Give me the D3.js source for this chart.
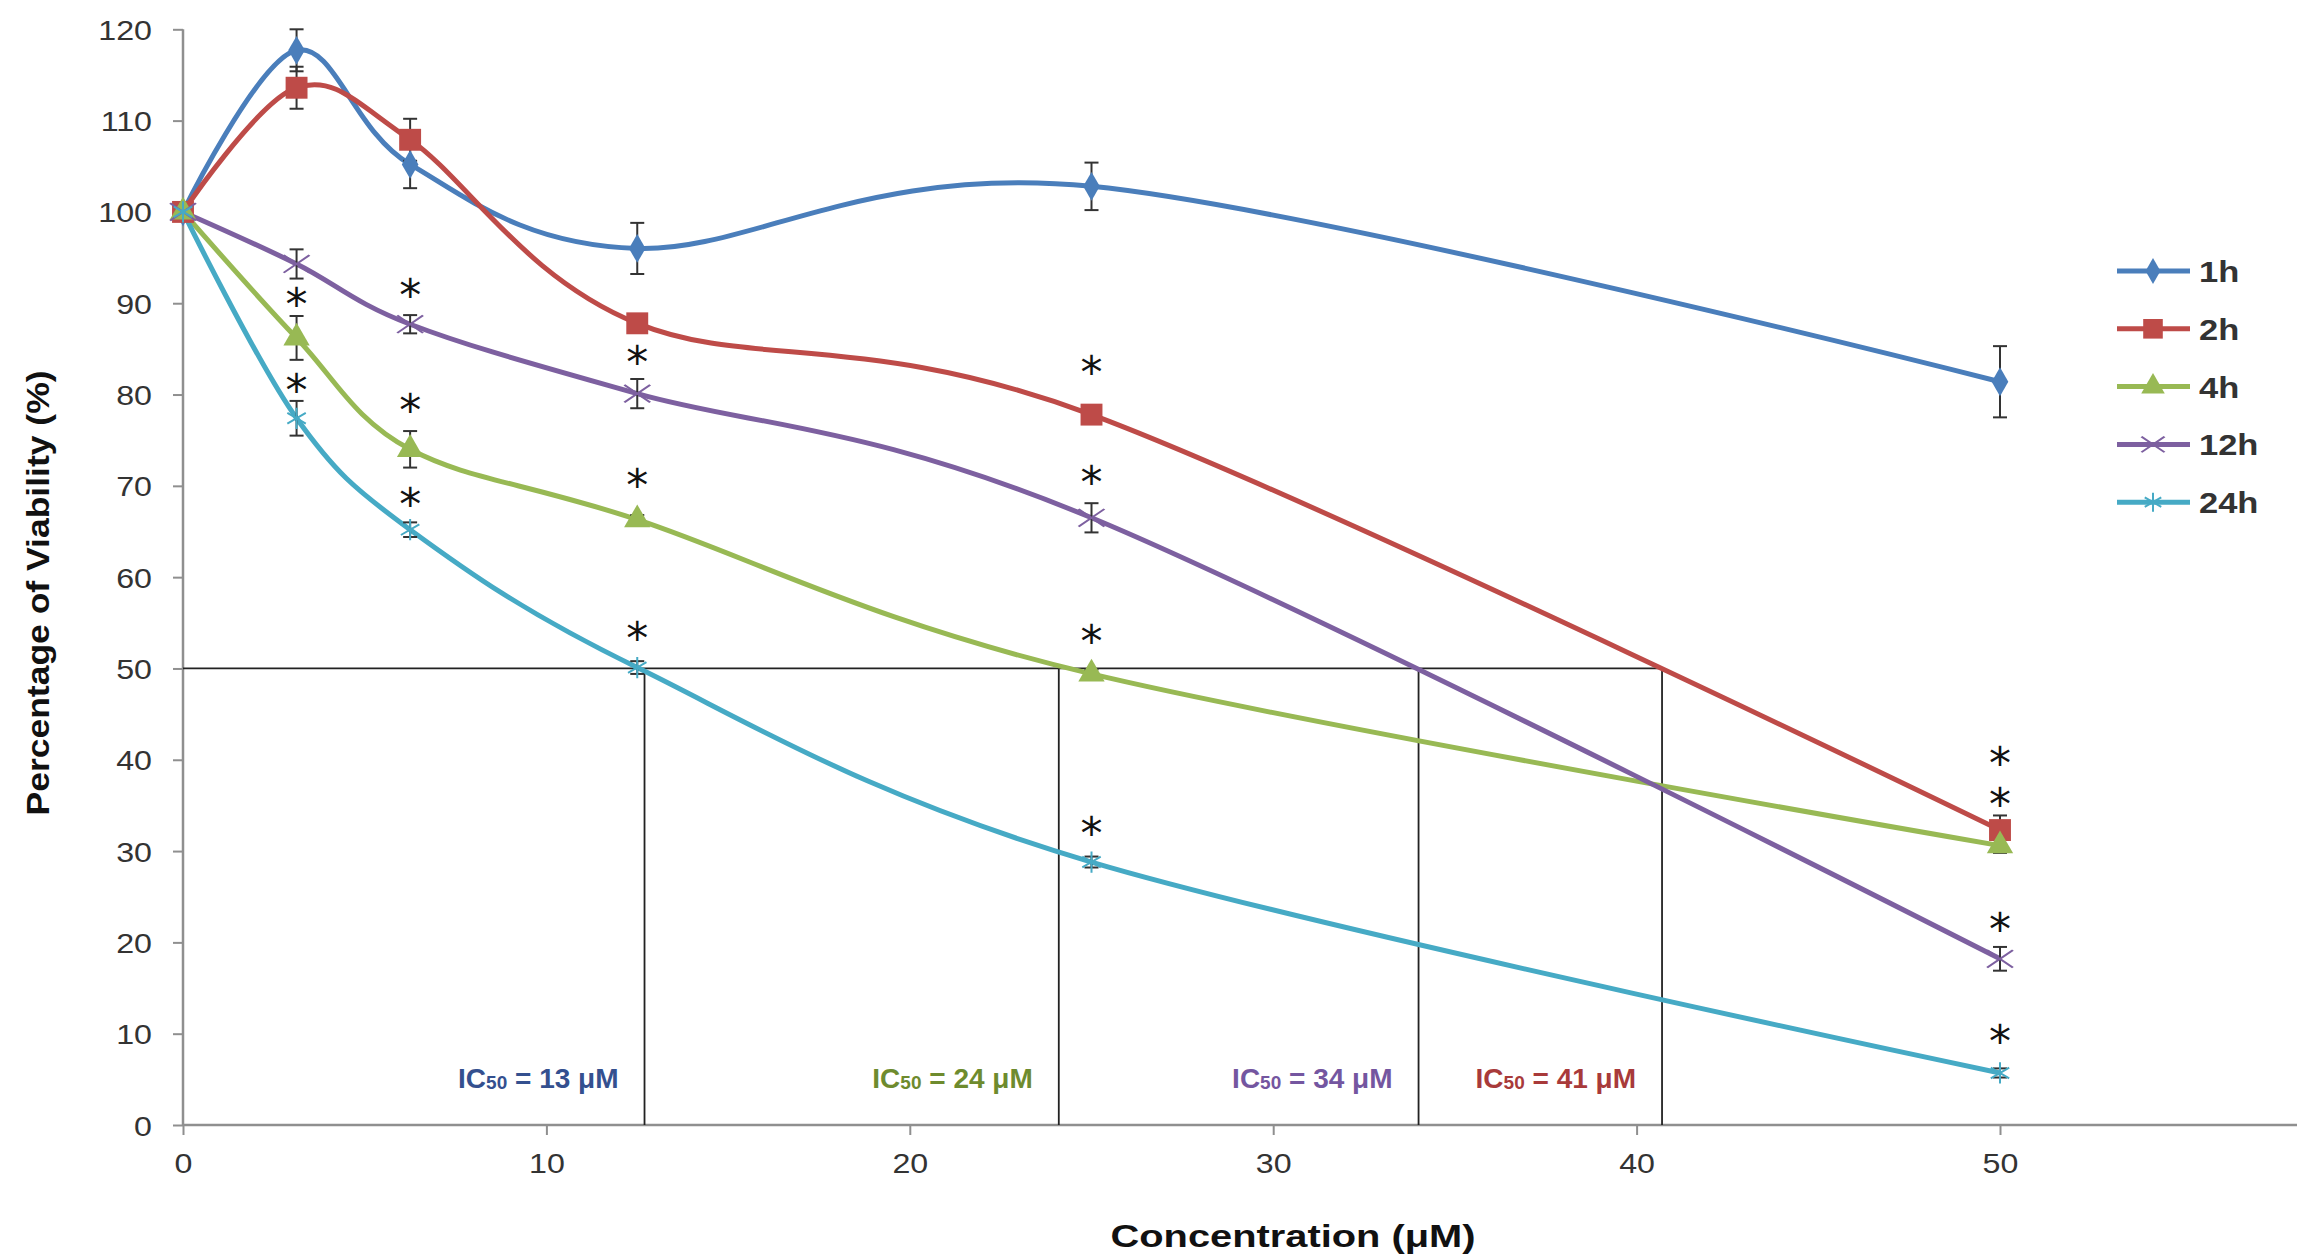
<!DOCTYPE html>
<html><head><meta charset="utf-8">
<script src="https://cdn.jsdelivr.net/npm/d3@7"></script>
<style>body{margin:0;background:#fff} svg{display:block}</style>
</head><body><svg id="c" width="2297" height="1260"></svg>
<script>
// ---------------- DATA ----------------
const concentrations = [0, 3.125, 6.25, 12.5, 25, 50];
const seriesNames = ["1h", "2h", "4h", "12h", "24h"];
const v1h  = [100, 117.7, 105.2, 96.0, 102.8, 81.4];
const v2h  = [100, 113.6, 107.9, 87.8, 77.8, 32.3];
const v4h  = [100, 86.2, 74.0, 66.3, 49.4, 30.6];
const v12h = [100, 94.3, 87.7, 80.1, 66.5, 18.2];
const v24h = [100, 77.4, 65.2, 50.1, 28.8, 5.7];
const e1h  = [0, 2.3, 2.6, 2.8, 2.6, 3.9];
const e2h  = [0, 2.3, 2.3, 0.8, 0.8, 1.6];
const e4h  = [0, 2.4, 2.0, 0.5, 0.5, 0.8];
const e12h = [0, 1.6, 1.0, 1.6, 1.6, 1.3];
const e24h = [0, 1.9, 0.8, 0.7, 0.6, 0.5];
const starX = [3.125, 3.125, 6.25, 6.25, 6.25, 12.5, 12.5, 12.5, 25, 25, 25, 25, 50, 50, 50, 50];
const starY = [90.6, 81.2, 91.6, 79.0, 68.7, 84.2, 70.7, 54.0, 83.1, 71.1, 53.7, 32.6, 40.3, 35.8, 22.1, 9.9];
const ic50Values = [12.7, 24.1, 34.0, 40.7];
const ic50Labels = ["13", "24", "34", "41"];
const xTicks = [0, 10, 20, 30, 40, 50];
const yTicks = [0, 10, 20, 30, 40, 50, 60, 70, 80, 90, 100, 110, 120];
const ic50Threshold = 50;

// ---------------- STYLE / LAYOUT ----------------
const FONT = "Liberation Sans, Arial, sans-serif";
const colors = ["#4A7EBB", "#BE4B48", "#98B954", "#7D60A0", "#46AAC5"];
const ic50Colors = ["#34508F", "#6E8B2E", "#7456A0", "#A83A3A"];
const values = [v1h, v2h, v4h, v12h, v24h];
const errors = [e1h, e2h, e4h, e12h, e24h];
const symbols = [d3.symbolDiamond, d3.symbolSquare, d3.symbolTriangle, d3.symbolTimes || d3.symbolX, d3.symbolAsterisk];
const symSize = [240, 480, 300, 280, 320];
const strokeSym = [false, false, false, true, true];
const TX = 1.15; // horizontal stretch of text seen in the reference

const svg = d3.select("#c");
const x = d3.scaleLinear().domain([0, 50]).range([183, 2000]);
const y = d3.scaleLinear().domain([0, 120]).range([1125, 29.3]);
const xEnd = 2297;

// axes
const yAxis = svg.append("g").attr("transform", `translate(${x(0)},0)`)
  .call(d3.axisLeft(y).tickValues(yTicks).tickSize(10).tickPadding(0).tickFormat(d3.format("d")));
const xAxis = svg.append("g").attr("transform", `translate(0,${y(0)})`)
  .call(d3.axisBottom(x).tickValues(xTicks).tickSize(10).tickPadding(0).tickFormat(d3.format("d")));
[yAxis, xAxis].forEach(g => {
  g.select(".domain").attr("stroke", "#8f8f8f").attr("stroke-width", 2.5);
  g.selectAll(".tick line").attr("stroke", "#8f8f8f").attr("stroke-width", 2);
  g.selectAll(".tick text").attr("fill", "#333").style("font-family", FONT).style("font-size", "28px");
});
yAxis.selectAll(".tick text").attr("x", null).attr("dy", null).attr("y", 10)
  .attr("transform", `translate(-31,0) scale(${TX},1)`);
xAxis.selectAll(".tick text").attr("dy", null).attr("y", 0)
  .attr("transform", `translate(0,48) scale(${TX},1)`);
xAxis.select(".domain").attr("d", `M${x(0)},0H${xEnd}`);
yAxis.select(".domain").attr("d", `M0,${y(120)}V${y(0)}`);

// IC50 reference lines
const refG = svg.append("g").attr("stroke", "#222").attr("stroke-width", 1.8);
refG.append("line").attr("x1", x(0)).attr("x2", x(d3.max(ic50Values)))
  .attr("y1", y(ic50Threshold)).attr("y2", y(ic50Threshold));
refG.selectAll("line.v").data(ic50Values).join("line").attr("class", "v")
  .attr("x1", d => x(d)).attr("x2", d => x(d)).attr("y1", y(0)).attr("y2", y(ic50Threshold));

// IC50 labels
const lab = svg.append("g").selectAll("text").data(ic50Values).join("text")
  .attr("x", d => x(d) - 26).attr("y", y(0) - 37).attr("text-anchor", "end")
  .attr("fill", (d, i) => ic50Colors[i])
  .style("font-family", FONT).style("font-weight", "bold").style("font-size", "28px");
lab.append("tspan").text("IC");
lab.append("tspan").text("50").style("font-size", "19px").attr("dy", 1);
lab.append("tspan").text((d, i) => ` = ${ic50Labels[i]} μM`).attr("dy", -1);

// lines
const line = d3.line().x(d => x(d[0])).y(d => y(d[1])).curve(d3.curveCardinal.tension(0));
values.forEach((vals, i) => {
  const pts = concentrations.map((c, j) => [c, vals[j]]);
  svg.append("path").datum(pts).attr("d", line).attr("fill", "none")
    .attr("stroke", colors[i]).attr("stroke-width", 5).attr("stroke-linejoin", "round");
});

// error bars
values.forEach((vals, i) => {
  const g = svg.append("g").attr("stroke", "#333").attr("stroke-width", 2);
  concentrations.forEach((c, j) => {
    const e = errors[i][j];
    if (!e) return;
    const cx = x(c), y1 = y(vals[j] + e), y2 = y(vals[j] - e);
    g.append("line").attr("x1", cx).attr("x2", cx).attr("y1", y1).attr("y2", y2);
    g.append("line").attr("x1", cx - 7).attr("x2", cx + 7).attr("y1", y1).attr("y2", y1);
    g.append("line").attr("x1", cx - 7).attr("x2", cx + 7).attr("y1", y2).attr("y2", y2);
  });
});

// markers
values.forEach((vals, i) => {
  const sym = d3.symbol().type(symbols[i]).size(symSize[i]);
  svg.append("g").selectAll("path").data(concentrations).join("path")
    .attr("transform", (c, j) => `translate(${x(c)},${y(vals[j])})` + (i === 3 ? " scale(1.25,0.85)" : ""))
    .attr("d", sym)
    .attr("fill", strokeSym[i] ? "none" : colors[i])
    .attr("stroke", strokeSym[i] ? colors[i] : "none")
    .attr("stroke-width", 2);
});

// significance asterisks
svg.append("g").selectAll("text").data(starX).join("text")
  .attr("x", d => x(d)).attr("y", (d, i) => y(starY[i]) + 22)
  .attr("text-anchor", "middle").attr("fill", "#111")
  .style("font-family", "DejaVu Sans, sans-serif").style("font-size", "44px")
  .text("*");

// legend
const lg = svg.append("g");
seriesNames.forEach((name, i) => {
  const ly = 271 + i * 57.8;
  lg.append("line").attr("x1", 2117).attr("x2", 2190).attr("y1", ly).attr("y2", ly)
    .attr("stroke", colors[i]).attr("stroke-width", 5);
  lg.append("path").attr("d", d3.symbol().type(symbols[i]).size(symSize[i] * 0.8))
    .attr("transform", `translate(2153,${ly})` + (i === 3 ? " scale(1.25,0.85)" : ""))
    .attr("fill", strokeSym[i] ? "none" : colors[i])
    .attr("stroke", strokeSym[i] ? colors[i] : "none").attr("stroke-width", 2);
  lg.append("text").attr("x", 0).attr("y", 0).text(name)
    .attr("transform", `translate(2199,${ly + 11}) scale(${TX},1)`)
    .attr("fill", "#333").style("font-family", FONT)
    .style("font-size", "30px").style("font-weight", "bold");
});

// axis titles
svg.append("text").attr("x", 1293).attr("y", 1247).attr("text-anchor", "middle")
  .attr("textLength", 365).attr("lengthAdjust", "spacingAndGlyphs")
  .attr("fill", "#111").style("font-family", FONT)
  .style("font-weight", "bold").style("font-size", "32px").text("Concentration (μM)");
svg.append("text").attr("transform", "translate(49,593) rotate(-90)").attr("text-anchor", "middle")
  .attr("textLength", 445).attr("lengthAdjust", "spacingAndGlyphs")
  .attr("fill", "#111").style("font-family", FONT)
  .style("font-weight", "bold").style("font-size", "32px").text("Percentage of Viability (%)");
</script></body></html>
